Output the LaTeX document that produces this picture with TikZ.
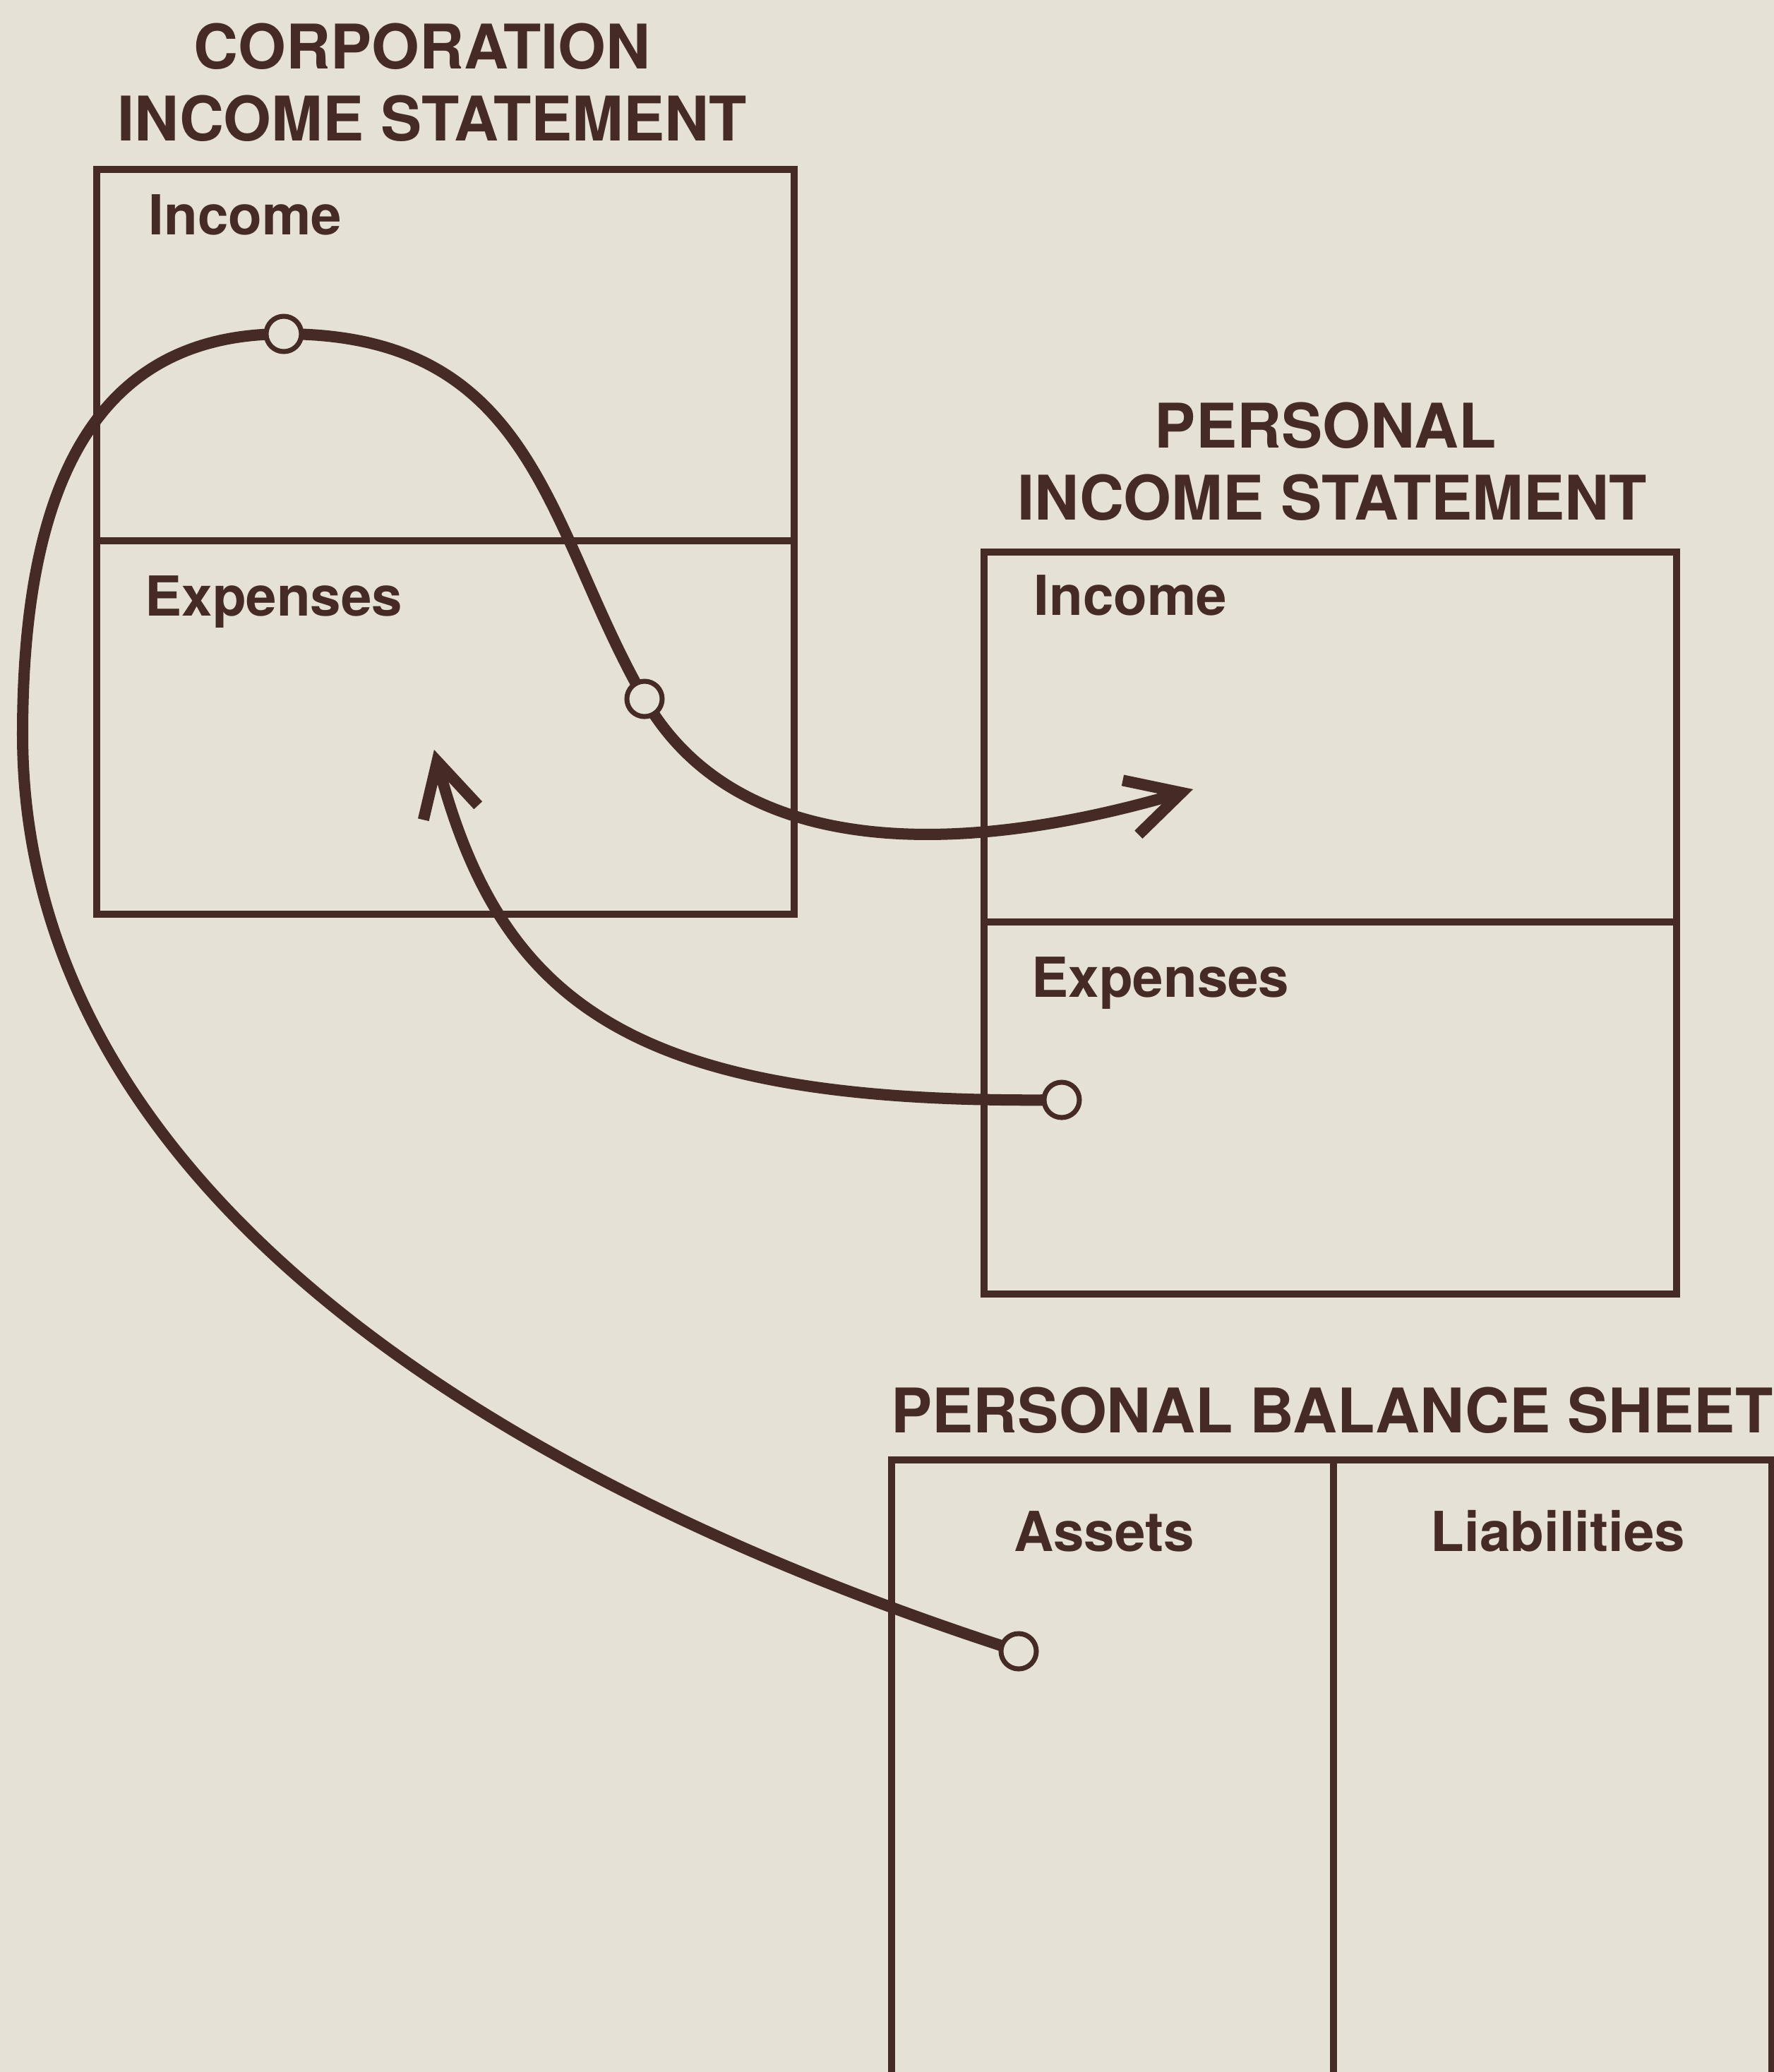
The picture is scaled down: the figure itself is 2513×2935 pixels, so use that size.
\documentclass[tikz,border=0pt]{standalone}
\usepackage{fontspec}
\setmainfont{TeX Gyre Heros}
\usetikzlibrary{arrows.meta}
\definecolor{ink}{RGB}{70,42,38}
\definecolor{paper}{RGB}{229,225,215}

\begin{document}
\begin{tikzpicture}[x=0.01cm,y=-0.01cm,
    frame/.style={draw=ink,line width=0.1cm},
    heading/.style={text=ink,anchor=base,inner sep=0pt,font=\bfseries\fontsize{24.8}{29}\selectfont},
    entry/.style={text=ink,anchor=base west,inner sep=0pt,font=\bfseries\fontsize{22.2}{26}\selectfont},
    dot/.style={circle,draw=ink,fill=paper,line width=0.07cm,minimum size=0.5cm,inner sep=0pt},
    flow/.style={draw=ink,line width=0.16cm,line cap=round,line join=round},
    barb/.style={-{Straight Barb[length=0.75cm,width=0.8cm]}}]
        \fill[paper] (0,0) rectangle (2513,2935);
        \useasboundingbox (0,0) rectangle (2513,2935);
        \clip (0,0) rectangle (2513,2935);

        % corporation income statement
        \node[heading] (corptitle) at (598,97) {CORPORATION};
        \node[heading] (corpsub) at (612,199) {INCOME STATEMENT};
        \draw[frame] (137,240) rectangle (1125,1295);
        \draw[frame] (137,766) -- (1125,766);
        \node[entry] (corpinc) at (210,332) {Income};
        \node[entry] (corpexp) at (205,872) {Expenses};

        % personal income statement
        \node[heading] (perstitle) at (1878,634) {PERSONAL};
        \node[heading] (perssub) at (1887,736) {INCOME STATEMENT};
        \draw[frame] (1394,782) rectangle (2375,1833);
        \draw[frame] (1394,1306) -- (2375,1306);
        \node[entry] (persinc) at (1464,871) {Income};
        \node[entry] (persexp) at (1461,1412) {Expenses};

        % personal balance sheet
        \node[heading] (baltitle) at (1887,2029) {PERSONAL BALANCE SHEET};
        \draw[frame] (1263,2068) rectangle (2510,3000);
        \draw[frame] (1889,2068) -- (1889,3000);
        \node[entry,anchor=base] (assets) at (1564,2197) {Assets};
        \node[entry,anchor=base] (liab) at (2207,2197) {Liabilities};

        % points on the flows
        \coordinate (assetpt) at (1443,2339);
        \coordinate (swing) at (32,1040);
        \coordinate (toppt) at (402,473);
        \coordinate (midpt) at (913,990);
        \coordinate (intoinc) at (1690,1118);
        \coordinate (costpt) at (1504,1558);
        \coordinate (intoexp) at (615,1062);

        % assets -> corporation income -> personal income
        \draw[flow] (assetpt) .. controls (719,2106) and (32,1690) .. (swing)
            .. controls (32,660) and (152,473) .. (toppt)
            .. controls (760,473) and (773,746) .. (midpt);
        \draw[flow,barb] (midpt) .. controls (1043,1216) and (1354,1216) .. (intoinc);

        % personal expenses -> corporation expenses
        \draw[flow,barb] (costpt) .. controls (904,1565) and (712,1429) .. (intoexp);

        \node[dot] (assetdot) at (assetpt) {};
        \node[dot] (topdot) at (toppt) {};
        \node[dot] (middot) at (midpt) {};
        \node[dot] (costdot) at (costpt) {};
\end{tikzpicture}
\end{document}
